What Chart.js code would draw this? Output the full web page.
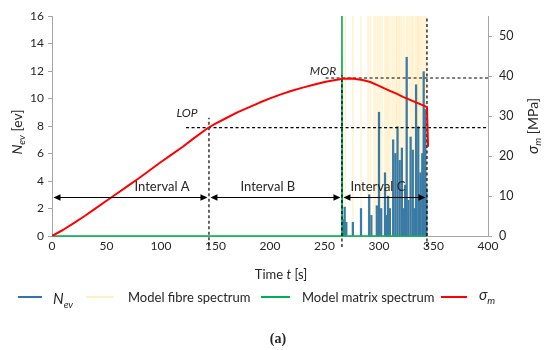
<!DOCTYPE html>
<html><head><meta charset="utf-8">
<script src="https://cdn.jsdelivr.net/npm/chart.js@4.4.1/dist/chart.umd.min.js"></script>
<style>html,body{margin:0;padding:0;background:#fff}#wrap{width:550px;height:350px}</style>
</head><body><div id="wrap"><canvas id="c" width="550" height="350"></canvas></div>
<script>
// ---- data ----
const timeTicks = [0,50,100,150,200,250,300,350,400];
const stressT = [0,10,20,30,40,50,60,70,80,90,100,110,120,130,143,150,160,170,180,190,200,210,220,230,240,250,260,267,275,285,292,298,305,310,316,322,328,335,340,344,345];
const stressV = [0,1.5,3.2,5.0,6.9,8.8,10.7,12.6,14.5,16.5,18.5,20.4,22.3,24.4,27.0,28.1,29.5,30.9,32.1,33.3,34.4,35.4,36.3,37.1,37.8,38.5,39.0,39.3,39.4,39.0,38.5,37.8,36.9,36.3,35.6,34.8,34.1,33.3,32.7,32.2,22.3];
const nevT = [267,268.5,270,276,283.5,291,293,298,300,302,305.5,307,308.3,310,313,315,317,319,321,323,324,325.4,327,329,331,332.5,334,336,337,338,339.7,341,342.5,343.5];
const nevV = [1.2,2.1,1.0,1.0,2.0,3.0,1.5,2.2,9.0,2.0,4.6,1.5,2.9,2.0,7.0,6.0,7.95,5.5,6.4,2.0,3.7,13.0,2.6,7.2,6.25,2.0,11.0,7.95,3.0,4.6,6.0,11.95,9.2,3.5];
const fibreT = [269,276,283.5,290,292,295.4,297,299,301,302.8,305.5,307,308.3,310,312,313.8,315.6,316.5,318,319.3,321,323,325,326.5,328.4,330,331.2,333,334.9,335.8,337,338.5,340.4,342.2,343.5];
const fibreLevel = 16;
const matrixT = [0,266,266,266.3,344];
const matrixV = [0,0,16,0,0];
const lopT = 144, morT = 266, endT = 344;
const lopStress = 27.1, morStress = 39.5;
const arrowLevel = 2.8;
const intervals = [
  {name:'Interval A', from:0, to:lopT, labelT:101},
  {name:'Interval B', from:lopT, to:morT, labelT:198},
  {name:'Interval C', from:morT, to:endT, labelT:299}
];

const FONT = 'Lato, "Open Sans", sans-serif';
const TXT = '#262626';

const extras = {
  id:'extras',
  afterDatasetsDraw(chart){
    const ctx = chart.ctx, xs = chart.scales.x, ys = chart.scales.y;
    ctx.save();
    const ay = ys.getPixelForValue(arrowLevel);
    ctx.strokeStyle = '#000'; ctx.fillStyle = '#000'; ctx.lineWidth = 1.2;
    intervals.forEach(iv => {
      const x1 = xs.getPixelForValue(iv.from) + 1.5, x2 = xs.getPixelForValue(iv.to) - 1.5;
      ctx.beginPath(); ctx.moveTo(x1+6, ay); ctx.lineTo(x2-6, ay); ctx.stroke();
      ctx.beginPath(); ctx.moveTo(x1, ay); ctx.lineTo(x1+7, ay-3.2); ctx.lineTo(x1+7, ay+3.2); ctx.closePath(); ctx.fill();
      ctx.beginPath(); ctx.moveTo(x2, ay); ctx.lineTo(x2-7, ay-3.2); ctx.lineTo(x2-7, ay+3.2); ctx.closePath(); ctx.fill();
      ctx.fillStyle = TXT; ctx.font = '13px ' + FONT; ctx.textAlign = 'center'; ctx.textBaseline = 'middle';
      ctx.fillText(iv.name, xs.getPixelForValue(iv.labelT), ay - 10.5);
      ctx.fillStyle = '#000';
    });
    ctx.fillStyle = TXT; ctx.font = 'italic 12px ' + FONT; ctx.textAlign = 'center'; ctx.textBaseline = 'middle';
    ctx.fillText('LOP', 187, 113);
    ctx.fillText('MOR', 323, 71);
    ctx.restore();
  },
  afterDraw(chart){
    const ctx = chart.ctx;
    ctx.save();
    ctx.fillStyle = TXT; ctx.textBaseline = 'alphabetic';
    function runs(parts, x, y, align){
      let w = 0;
      parts.forEach(p => { ctx.font = p.f; w += ctx.measureText(p.t).width; });
      let cx = align === 'center' ? x - w/2 : x;
      parts.forEach(p => { ctx.font = p.f; ctx.textAlign = 'left'; ctx.fillText(p.t, cx, y + (p.dy||0)); cx += ctx.measureText(p.t).width; });
    }
    ctx.save(); ctx.translate(22, 132); ctx.rotate(-Math.PI/2);
    runs([{t:'N', f:'italic 14px '+FONT},{t:'ev', f:'italic 10px '+FONT, dy:3},{t:' [ev]', f:'14px '+FONT}], 0, 0, 'center');
    ctx.restore();
    ctx.save(); ctx.translate(538, 126); ctx.rotate(-Math.PI/2);
    runs([{t:'σ', f:'italic 15px '+FONT},{t:'m', f:'italic 10px '+FONT, dy:3},{t:' [MPa]', f:'14px '+FONT}], 0, 0, 'center');
    ctx.restore();
    runs([{t:'Time ', f:'13px '+FONT},{t:'t', f:'italic 13px '+FONT},{t:' [s]', f:'13px '+FONT}], 281, 279, 'center');
    const ly = 297;
    const items = [
      {c:'#2E75B6', x1:18, x2:42, tx:53, parts:[{t:'N', f:'italic 15px '+FONT, dy:2},{t:'ev', f:'italic 10px '+FONT, dy:6}]},
      {c:'#FFF0C4', x1:86, x2:114, tx:128, parts:[{t:'Model fibre spectrum', f:'13px '+FONT}]},
      {c:'#00B050', x1:261, x2:290, tx:302, parts:[{t:'Model matrix spectrum', f:'13px '+FONT}]},
      {c:'#FF0000', x1:441, x2:467, tx:479, parts:[{t:'σ', f:'italic 15px '+FONT, dy:-2},{t:'m', f:'italic 10px '+FONT, dy:2}]}
    ];
    items.forEach(it => {
      ctx.strokeStyle = it.c; ctx.lineWidth = 2;
      ctx.beginPath(); ctx.moveTo(it.x1, ly); ctx.lineTo(it.x2, ly); ctx.stroke();
      runs(it.parts, it.tx, ly + 4.5, 'left');
    });
    ctx.font = 'bold 14px "Liberation Serif", "DejaVu Serif", serif'; ctx.textAlign = 'center';
    ctx.fillText('(a)', 278, 343);
    ctx.restore();
  }
};

const dash = {borderColor:'#000', borderWidth:1.2, borderDash:[3,2.5], pointRadius:0, fill:false, clip:false, type:'line', tension:0};

new Chart(document.getElementById('c'), {
  data: {
    datasets: [
      {type:'line', label:'sigma', data: stressT.map((t,i)=>({x:t, y:stressV[i]})), yAxisID:'y2', borderColor:'#FF0000', borderWidth:2, pointRadius:0, tension:0, borderJoinStyle:'round', order:1},
      Object.assign({label:'lopV', data:[{x:lopT,y:-0.7},{x:lopT,y:8.6}], yAxisID:'y', order:2}, dash),
      Object.assign({label:'lopH', data:[{x:123,y:lopStress},{x:400,y:lopStress}], yAxisID:'y2', order:2}, dash),
      Object.assign({label:'morV', data:[{x:morT,y:-0.8},{x:morT,y:11.7}], yAxisID:'y', order:2}, dash),
      Object.assign({label:'morH', data:[{x:251,y:morStress},{x:400,y:morStress}], yAxisID:'y2', order:2}, dash),
      Object.assign({label:'endV', data:[{x:endT,y:-0.8},{x:endT,y:16}], yAxisID:'y', order:2}, dash),
      {type:'line', label:'matrix', data: matrixT.map((t,i)=>({x:t, y:matrixV[i]})), yAxisID:'y', borderColor:'#00B050', borderWidth:1.6, pointRadius:0, tension:0, clip:false, order:3},
      {type:'bar', label:'Nev', data: nevT.map((t,i)=>({x:t, y:nevV[i]})), yAxisID:'y', backgroundColor:'#3A7BA6', barThickness:1.6, grouped:false, order:4},
      {type:'bar', label:'fibre', data: fibreT.map(t=>({x:t, y:fibreLevel})), yAxisID:'y', backgroundColor:'rgba(255,220,130,0.32)', barThickness:1.2, grouped:false, order:5}
    ]
  },
  options: {
    responsive:false, animation:false,
    layout:{padding:{top:16, left:0, right:0, bottom:0}},
    plugins:{legend:{display:false}, tooltip:{enabled:false}},
    scales:{
      x:{type:'linear', min:0, max:400, offset:false,
        afterBuildTicks: s => { s.ticks = timeTicks.map(v=>({value:v})); },
        afterFit: s => { s.height = 114; },
        ticks:{color:TXT, font:{family:FONT, size:12}, padding:3, maxRotation:0},
        grid:{display:true, drawOnChartArea:false, drawTicks:false},
        border:{color:'#A6A6A6', width:1}},
      y:{position:'left', min:0, max:16,
        ticks:{stepSize:2, color:TXT, font:{family:FONT, size:12}, padding:4},
        afterFit: s => { s.width = 52; },
        grid:{drawOnChartArea:false, drawTicks:true, tickLength:4, color:'#A6A6A6'},
        border:{color:'#A6A6A6', width:1}},
      y2:{position:'right', min:0, max:55,
        afterBuildTicks: s => { s.ticks = s.ticks.filter(t => t.value % 10 === 0); },
        ticks:{stepSize:10, color:TXT, font:{family:FONT, size:12.5}, padding:7},
        afterFit: s => { s.width = 62; },
        grid:{drawOnChartArea:false, drawTicks:true, tickLength:4, color:'#A6A6A6'},
        border:{color:'#A6A6A6', width:1}}
    }
  },
  plugins:[extras]
});
</script></body></html>
